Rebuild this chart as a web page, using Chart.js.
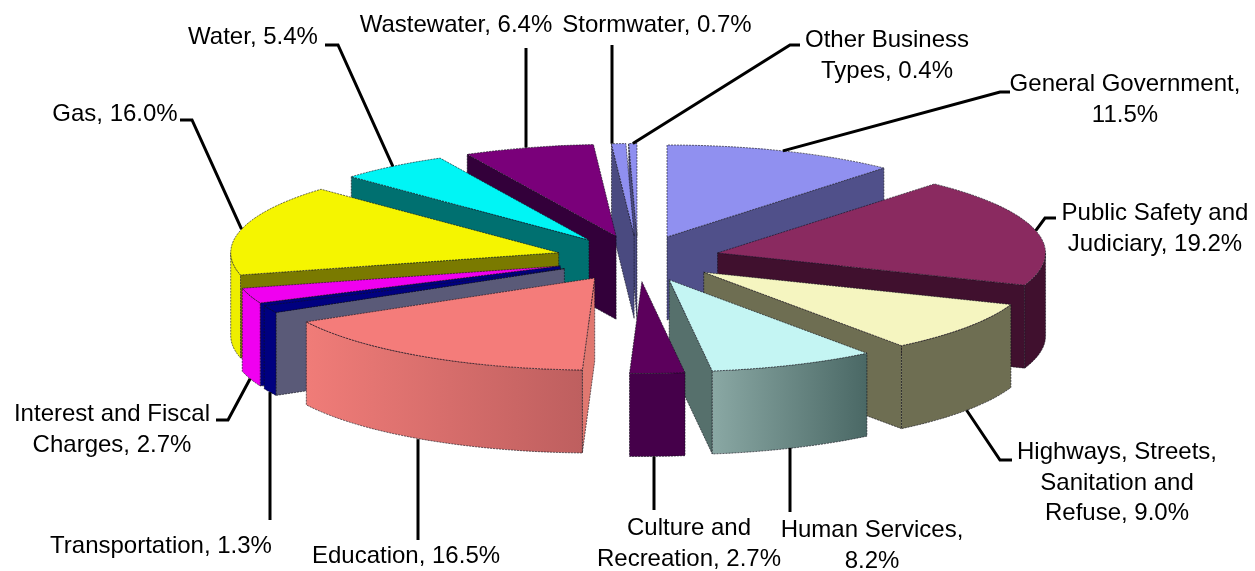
<!DOCTYPE html>
<html>
<head>
<meta charset="utf-8">
<title>Expenses by function</title>
<style>
  html, body { margin: 0; background: #fff; }
  canvas { display: block; }
</style>
<script src="https://cdn.jsdelivr.net/npm/chart.js@4"></script>
</head>
<body>
<canvas id="chart" width="1255" height="571"></canvas>
<script>
const categories = ['General Government', 'Public Safety and Judiciary', 'Highways, Streets, Sanitation and Refuse',
  'Human Services', 'Culture and Recreation', 'Education', 'Transportation', 'Interest and Fiscal Charges',
  'Gas', 'Water', 'Wastewater', 'Stormwater', 'Other Business Types'];
const shares = [11.5, 19.2, 9.0, 8.2, 2.7, 16.5, 1.3, 2.7, 16.0, 5.4, 6.4, 0.7, 0.4];

// how each label wraps
const labelLines = [
  ['General Government,', '11.5%'], ['Public Safety and', 'Judiciary, 19.2%'],
  ['Highways, Streets,', 'Sanitation and', 'Refuse, 9.0%'], ['Human Services,', '8.2%'],
  ['Culture and', 'Recreation, 2.7%'], ['Education, 16.5%'], ['Transportation, 1.3%'],
  ['Interest and Fiscal', 'Charges, 2.7%'], ['Gas, 16.0%'], ['Water, 5.4%'], ['Wastewater, 6.4%'],
  ['Stormwater, 0.7%'], ['Other Business', 'Types, 0.4%']
];

const topColors = ['#9090f0', '#8a2a60', '#f5f5c0', '#c4f5f3', '#5c005c', '#f47c7a', '#000080', '#f000f0',
  '#f5f500', '#00f5f5', '#7a007a', '#8f8ff0', '#8f8ff0'];
const sideColors = ['#50508a', '#40102e', '#6e6e52', '#56706c', '#45004a', '#e07870', '#5a5a78', '#000080',
  '#7a7a00', '#007070', '#33003a', '#4a4a80', '#4a4a80'];
const rimStart = ['#50508a', '#40102e', '#6e6e52', '#8aa8a4', '#45004a', '#f07c78', '#000080', '#f000f0',
  '#eeee00', '#007070', '#33003a', '#4a4a80', '#4a4a80'];
const rimEnd = ['#50508a', '#40102e', '#6e6e52', '#4a6865', '#45004a', '#be5f5f', '#000080', '#f000f0',
  '#eeee00', '#007070', '#33003a', '#4a4a80', '#4a4a80'];

// label centre [x, y] and the leader's path from the slice to the label
const labelSpots = [[1125, 83], [1155, 212], [1117, 451], [872, 529], [689, 527], [406, 555], [161, 545],
  [112, 413], [115, 113], [253, 36], [456, 24], [657, 24], [887, 39]];
const leaderBends = [
  [[1000, 92], [1010, 92]], [[1045, 218], [1056, 218]], [[1000, 460], [1012, 460]], [[790, 512]], [[654, 510]],
  [[418, 540]], [[270, 520]], [[228, 420], [216, 420]], [[192, 120], [180, 120]], [[338, 45], [325, 45]],
  [[526, 48]], [[612, 45]], [[790, 45], [800, 45]]
];

const RX = 328, RY = 92, DEPTH = 83, EXPLODE = 0.25;

// projects a point on the unit pie (angle, radius ratio) to the page, for slice arc
function project(arc, angle, ratio) {
  const mid = (arc.startAngle + arc.endAngle) / 2;
  return {
    x: arc.x + RX * (EXPLODE * Math.cos(mid) + ratio * Math.cos(angle)),
    y: arc.y + RY * (EXPLODE * Math.sin(mid) + ratio * Math.sin(angle))
  };
}

function wallPath(ctx, pts) {
  ctx.beginPath();
  pts.forEach((p) => ctx.lineTo(p.x, p.y));
  for (let i = pts.length - 1; i >= 0; i--) ctx.lineTo(pts[i].x, pts[i].y + DEPTH);
  ctx.closePath();
}

function rimPoints(arc, from, to) {
  const pts = [];
  const steps = Math.max(2, Math.ceil((to - from) / 0.03));
  for (let i = 0; i <= steps; i++) pts.push(project(arc, from + (to - from) * i / steps, 1));
  return pts;
}

function edgeStroke(ctx) {
  ctx.strokeStyle = 'rgba(15,15,25,0.6)';
  ctx.lineWidth = 1;
  ctx.setLineDash([2, 1]);
  ctx.stroke();
  ctx.setLineDash([]);
}

function drawWall(ctx, pts, fill) {
  wallPath(ctx, pts);
  ctx.fillStyle = fill;
  ctx.fill();
  edgeStroke(ctx);
}

const pieBlock = {
  id: 'pieBlock',
  beforeDatasetDraw(chart) {
    const ctx = chart.ctx;
    const arcs = chart.getDatasetMeta(0).data;
    // paint back slices first
    const order = arcs.map((a, i) => i).sort((a, b) => {
      const depth = (arc) => Math.sin((arc.startAngle + arc.endAngle) / 2);
      return depth(arcs[a]) - depth(arcs[b]);
    });
    order.forEach((i) => {
      const arc = arcs[i];
      const s = arc.startAngle, e = arc.endAngle;
      const mid = (s + e) / 2;
      const apex = project(arc, 0, 0);

      if (Math.cos(s) < -0.001) drawWall(ctx, [apex, project(arc, s, 1)], sideColors[i]);
      if (Math.cos(e) > 0.001) drawWall(ctx, [apex, project(arc, e, 1)], sideColors[i]);

      const lo = Math.max(s, 0), hi = Math.min(e, Math.PI);
      if (lo < hi) {
        const pts = rimPoints(arc, lo, hi);
        const minX = Math.min(...pts.map((p) => p.x));
        const maxX = Math.max(...pts.map((p) => p.x));
        const grad = ctx.createLinearGradient(minX, 0, maxX, 0);
        grad.addColorStop(0, rimStart[i]);
        grad.addColorStop(1, rimEnd[i]);
        drawWall(ctx, pts, grad);
      }

      // top face is the library's own arc, squashed and pulled out from the centre
      ctx.save();
      ctx.translate(arc.x, arc.y);
      ctx.scale(RX / arc.outerRadius, RY / arc.outerRadius);
      ctx.translate(-arc.x, -arc.y);
      ctx.translate(Math.cos(mid) * EXPLODE * arc.outerRadius, Math.sin(mid) * EXPLODE * arc.outerRadius);
      arc.draw(ctx);
      ctx.restore();

      // top outline
      const rim = rimPoints(arc, s, e);
      ctx.beginPath();
      ctx.moveTo(apex.x, apex.y);
      rim.forEach((p) => ctx.lineTo(p.x, p.y));
      ctx.closePath();
      edgeStroke(ctx);
    });
    return false;
  },
  afterDraw(chart) {
    const ctx = chart.ctx;
    const arcs = chart.getDatasetMeta(0).data;
    ctx.save();
    arcs.forEach((arc, i) => {
      const mid = (arc.startAngle + arc.endAngle) / 2;
      const bends = leaderBends[i];
      const from = project(arc, mid, 1);
      if (Math.sin(mid) > 0.2) from.y += DEPTH;
      // single-leg leaders run straight up or down
      if (bends.length === 1) from.x = bends[0][0];
      ctx.beginPath();
      ctx.moveTo(from.x, from.y);
      bends.forEach((p) => ctx.lineTo(p[0], p[1]));
      ctx.strokeStyle = '#000';
      ctx.lineWidth = 3;
      ctx.stroke();
    });
    ctx.fillStyle = '#000';
    ctx.font = '24px "Liberation Sans", Arial, sans-serif';
    ctx.textAlign = 'center';
    ctx.textBaseline = 'middle';
    labelLines.forEach((lines, i) => {
      lines.forEach((line, j) => {
        ctx.fillText(line, labelSpots[i][0], labelSpots[i][1] + 1.5 + j * 30.5);
      });
    });
    ctx.restore();
  }
};

new Chart(document.getElementById('chart'), {
  type: 'pie',
  data: {
    labels: categories,
    datasets: [{ data: shares, backgroundColor: topColors, borderWidth: 0 }]
  },
  options: {
    responsive: false,
    animation: false,
    layout: { padding: { left: 21, top: 0, right: 0, bottom: 54 } },
    plugins: { legend: { display: false }, tooltip: { enabled: false } }
  },
  plugins: [pieBlock]
});
</script>
</body>
</html>
